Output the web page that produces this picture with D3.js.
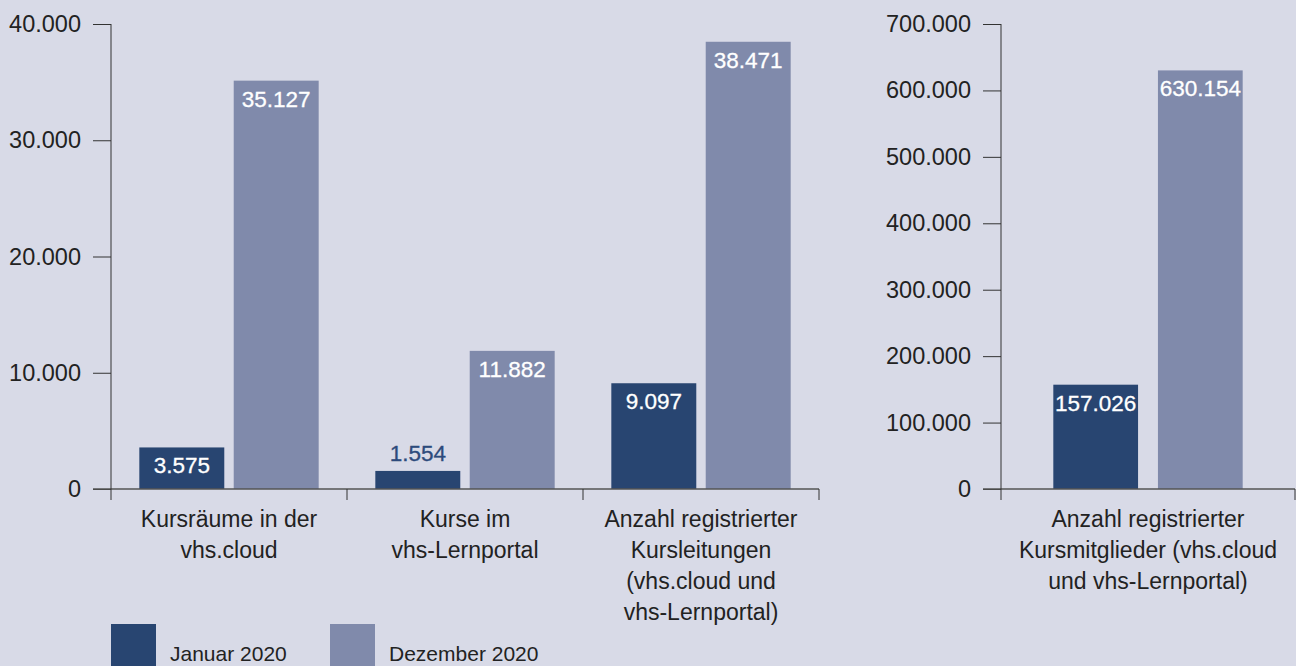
<!DOCTYPE html>
<html>
<head>
<meta charset="utf-8">
<script src="https://cdn.jsdelivr.net/npm/d3@7"></script>
<style>
  html, body { margin: 0; padding: 0; background: #d8dae7; }
  svg { display: block; font-family: "Liberation Sans", Arial, Helvetica, sans-serif; }
</style>
</head>
<body>
<svg id="chart" width="1296" height="666"></svg>
<script>
// series
var series = ["Januar 2020", "Dezember 2020"]
var colors = ["#284571", "#808aab"]

// left panel
var leftCategories = [
    ["Kursräume in der", "vhs.cloud"],
    ["Kurse im", "vhs-Lernportal"],
    ["Anzahl registrierter", "Kursleitungen", "(vhs.cloud und", "vhs-Lernportal)"]
]
var leftJan = [3575, 1554, 9097]
var leftDez = [35127, 11882, 38471]
var leftTicks = [0, 10000, 20000, 30000, 40000]

// right panel
var rightCategories = [
    ["Anzahl registrierter", "Kursmitglieder (vhs.cloud", "und vhs-Lernportal)"]
]
var rightJan = [157026]
var rightDez = [630154]
var rightTicks = [0, 100000, 200000, 300000, 400000, 500000, 600000, 700000]

var svg = d3.select("#chart")
var fmt = d3.formatLocale({ decimal: ",", thousands: ".", grouping: [3] }).format(",d")

function panel(cfg) {
    var g = svg.append("g")
    var y = d3.scaleLinear().domain(cfg.domain).range([489, 24])
    var keys = cfg.categories.map(function(d, i) { return i })
    var x0 = d3.scaleBand().domain(keys).range(cfg.xRange)
    var x1 = d3.scaleBand().domain(series).range([0, x0.bandwidth()])
        .paddingInner(cfg.padIn).paddingOuter(cfg.padOut)

    // y axis ticks + labels
    var axis = d3.axisLeft(y).tickValues(cfg.ticks).tickSize(18).tickPadding(12)
        .tickFormat(fmt)
    var ag = g.append("g").attr("transform", "translate(" + cfg.xRange[0] + ",0)").call(axis)
    ag.select(".domain").remove()
    ag.selectAll(".tick line").attr("stroke", "#333")
    ag.selectAll(".tick text").attr("fill", "#222").style("font-size", "23.5px")
        .style("font-family", "Liberation Sans, Arial, sans-serif")

    var rows = cfg.categories.map(function(c, i) {
        return { key: i, values: [cfg.jan[i], cfg.dez[i]] }
    })

    var grp = g.selectAll(".grp").data(rows).enter().append("g")
        .attr("transform", function(d) { return "translate(" + x0(d.key) + ",0)" })

    grp.selectAll("rect").data(function(d) {
        return d.values.map(function(v, j) { return { s: series[j], v: v, j: j } })
    }).enter().append("rect")
        .attr("x", function(d) { return x1(d.s) })
        .attr("width", x1.bandwidth())
        .attr("y", function(d) { return y(d.v) })
        .attr("height", function(d) { return y(0) - y(d.v) })
        .attr("fill", function(d) { return colors[d.j] })

    // value labels: inside the bar when it is tall enough, otherwise above
    grp.selectAll(".val").data(function(d) {
        return d.values.map(function(v, j) { return { s: series[j], v: v, j: j } })
    }).enter().append("text")
        .attr("x", function(d) { return x1(d.s) + x1.bandwidth() / 2 })
        .attr("y", function(d) {
            var inside = y(0) - y(d.v) > 34
            return inside ? y(d.v) + 26 : y(d.v) - 10
        })
        .attr("text-anchor", "middle")
        .style("font-size", "22.5px")
        .attr("fill", function(d) { return (y(0) - y(d.v) > 34) ? "#fff" : "#2c4a7c" })
        .attr("stroke", function(d) { return (y(0) - y(d.v) > 34) ? "#fff" : "#2c4a7c" })
        .attr("stroke-width", 0.3)
        .text(function(d) { return fmt(d.v) })

    // baseline
    g.append("line")
        .attr("x1", cfg.xRange[0] - 18).attr("x2", cfg.xRange[1])
        .attr("y1", y(0)).attr("y2", y(0))
        .attr("stroke", "#555").attr("stroke-width", 1.5)
    // vertical axis line
    g.append("line")
        .attr("x1", cfg.xRange[0]).attr("x2", cfg.xRange[0])
        .attr("y1", y(cfg.domain[1])).attr("y2", y(0) + 11)
        .attr("stroke", "#333")
    // category separators
    g.selectAll(".sep").data(keys).enter().append("line")
        .attr("x1", function(d) { return x0(d) + x0.bandwidth() })
        .attr("x2", function(d) { return x0(d) + x0.bandwidth() })
        .attr("y1", y(0)).attr("y2", y(0) + 11)
        .attr("stroke", "#333")

    // category labels
    var lab = g.selectAll(".cat").data(cfg.categories).enter().append("text")
        .attr("text-anchor", "middle")
        .attr("fill", "#222")
        .style("font-size", "23px")
        .attr("transform", function(d, i) {
            return "translate(" + (x0(i) + x0.bandwidth() / 2) + ",527)"
        })
    lab.selectAll("tspan").data(function(d) { return d }).enter().append("tspan")
        .attr("x", 0)
        .attr("y", function(d, i) { return i * 31 })
        .text(function(d) { return d })
}

panel({
    categories: leftCategories, jan: leftJan, dez: leftDez,
    domain: [0, 40000], ticks: leftTicks, xRange: [111, 819],
    padIn: 0.1, padOut: 0.3
})

panel({
    categories: rightCategories, jan: rightJan, dez: rightDez,
    domain: [0, 700000], ticks: rightTicks, xRange: [1001, 1295],
    padIn: 0.19, padOut: 0.5
})

// legend
var lx = d3.scaleOrdinal().domain(series).range([111, 330])
var leg = svg.selectAll(".leg").data(series).enter().append("g")
    .attr("transform", function(d) { return "translate(" + lx(d) + ",624)" })
leg.append("rect").attr("width", 45).attr("height", 50)
    .attr("fill", function(d, i) { return colors[i] })
leg.append("text").attr("x", 59).attr("y", 37)
    .attr("fill", "#222").style("font-size", "21px")
    .text(function(d) { return d })
</script>
</body>
</html>
